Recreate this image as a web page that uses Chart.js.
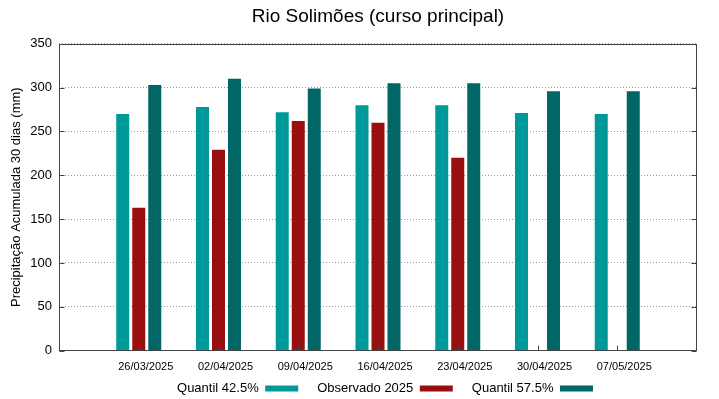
<!DOCTYPE html>
<html><head><meta charset="utf-8">
<script src="https://cdn.jsdelivr.net/npm/chart.js@4/dist/chart.umd.min.js"></script>
<style>html,body{margin:0;padding:0;background:#fff}</style>
</head><body>
<canvas id="c" width="719" height="399"></canvas>
<script>
const titleText = 'Rio Solimões (curso principal)';
const yAxisTitle = 'Precipitação Acumulada 30 dias (mm)';
const dates = ['26/03/2025','02/04/2025','09/04/2025','16/04/2025','23/04/2025','30/04/2025','07/05/2025'];
const quantil425 = [270, 278, 272, 280, 280, 271, 270];
const observado2025 = [163, 229, 262, 260, 220, null, null];
const quantil575 = [303, 310, 299, 305, 305, 296, 296];
const seriesNames = ['Quantil 42.5%', 'Observado 2025', 'Quantil 57.5%'];
const seriesColors = ['#009999', '#990f0f', '#006666'];
const yTicks = [0, 50, 100, 150, 200, 250, 300, 350];

const FONT = "'Liberation Sans', Arial, sans-serif";
const pad = arr => [null, ...arr, null];
const labels = ['', ...dates, ''];

const framePlugin = {
  id: 'frame',
  afterLayout(chart) {
    const ca = chart.chartArea;
    const t = chart.titleBlock;
    if (t) { t.left = ca.left; t.right = ca.right; }
    const lg = chart.legend;
    if (lg) {
      const dx = 385 - (lg.left + lg.right) / 2;
      lg.left += dx; lg.right += dx;
      lg.top = 363;
      lg.bottom = chart.height;
      lg.height = lg.bottom - lg.top;
    }
  },
  afterDatasetsDraw(chart) {
    const {ctx, chartArea: ca, scales} = chart;
    const L = Math.round(ca.left) + 0.5, R = Math.round(ca.right) - 0.5;
    const T = Math.round(ca.top) + 0.5, B = Math.round(ca.bottom) - 0.5;
    ctx.save();
    ctx.strokeStyle = '#444';
    ctx.lineWidth = 1;
    ctx.setLineDash([]);
    ctx.beginPath();
    for (let i = 1; i <= dates.length; i++) {
      const px = Math.round(scales.x.getPixelForValue(i)) + 0.5;
      ctx.moveTo(px, B); ctx.lineTo(px, B - 5);
    }
    yTicks.forEach(v => {
      const py = Math.round(scales.y.getPixelForValue(v)) + 0.5;
      ctx.moveTo(L, py); ctx.lineTo(L + 5, py);
      ctx.moveTo(R, py); ctx.lineTo(R - 5, py);
    });
    ctx.stroke();
    ctx.strokeRect(L, T, R - L, B - T);
    ctx.restore();
  }
};

new Chart(document.getElementById('c'), {
  type: 'bar',
  data: {
    labels: labels,
    datasets: [
      {label: seriesNames[0], data: pad(quantil425), backgroundColor: seriesColors[0]},
      {label: seriesNames[1], data: pad(observado2025), backgroundColor: seriesColors[1]},
      {label: seriesNames[2], data: pad(quantil575), backgroundColor: seriesColors[2]}
    ]
  },
  options: {
    responsive: false,
    animation: false,
    devicePixelRatio: 1,
    categoryPercentage: 0.602,
    barPercentage: 0.8125,
    borderWidth: 0,
    layout: {padding: {left: 0, right: 22, top: 0, bottom: 0}},
    plugins: {
      title: {display: true, text: titleText, color: '#000',
        font: {family: FONT, size: 19, weight: 'normal'}, padding: {top: 5, bottom: 16}},
      legend: {position: 'bottom', rtl: true, reverse: true, textDirection: 'ltr', maxHeight: 25,
        labels: {boxWidth: 33, boxHeight: 6, padding: 19, color: '#000', font: {family: FONT, size: 13}}},
      tooltip: {enabled: false}
    },
    scales: {
      x: {
        type: 'category', offset: false,
        grid: {display: false, drawTicks: false}, border: {display: false},
        ticks: {autoSkip: false, maxRotation: 0, minRotation: 0, padding: 10, labelOffset: 7, color: '#000',
          font: {family: FONT, size: 11}},
        afterFit(s) { s.height = 23.4; }
      },
      y: {
        min: 0, max: 350,
        afterBuildTicks(s) { s.ticks = yTicks.map(v => ({value: v})); },
        grid: {color: '#999', lineWidth: 1, drawTicks: false},
        border: {display: false, dash: [1, 2]},
        ticks: {padding: 7, color: '#000', font: {family: FONT, size: 13}},
        title: {display: true, text: yAxisTitle, color: '#000', font: {family: FONT, size: 13},
          padding: {top: 9, bottom: 0}},
        afterFit(s) { s.width = 59; }
      }
    }
  },
  plugins: [framePlugin]
});
</script>
</body></html>
